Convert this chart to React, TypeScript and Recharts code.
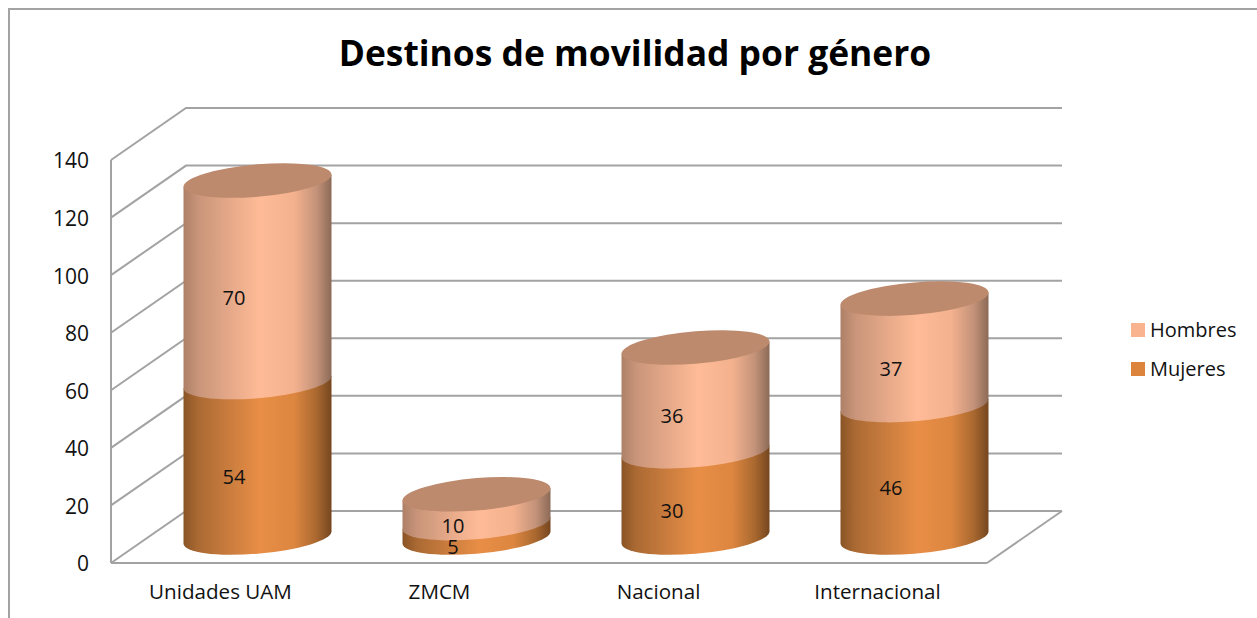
import React from "react";
import { BarChart, Bar, XAxis, YAxis, CartesianGrid, Legend, LabelList } from "recharts";

const categories = ["Unidades UAM", "ZMCM", "Nacional", "Internacional"];
const mujeres = [54, 5, 30, 46];
const hombres = [70, 10, 36, 37];
const yTicks = [0, 20, 40, 60, 80, 100, 120, 140];

const rows = categories.map((name, i) => ({ name, Mujeres: mujeres[i], Hombres: hombres[i] }));

const FONT = "'Open Sans', 'Noto Sans', sans-serif";
const GRID = "#a3a3a3";
const DEPTH_X = 75;
const DEPTH_Y = -52;
const BAR_DX = 36.5;
const BAR_DY = -25.5;
const SHEAR = -0.082;
const RY = 16.2;

function Gradients() {
  return (
    <defs>
      <linearGradient id="orangeBody" x1="0" y1="0" x2="1" y2="0">
        <stop offset="0" stopColor="#8a5426" />
        <stop offset="0.1" stopColor="#ab6a33" />
        <stop offset="0.35" stopColor="#d08040" />
        <stop offset="0.52" stopColor="#e88e46" />
        <stop offset="0.75" stopColor="#dc8640" />
        <stop offset="0.9" stopColor="#a9682f" />
        <stop offset="1" stopColor="#754620" />
      </linearGradient>
      <linearGradient id="peachBody" x1="0" y1="0" x2="1" y2="0">
        <stop offset="0" stopColor="#ad8067" />
        <stop offset="0.1" stopColor="#c9957a" />
        <stop offset="0.35" stopColor="#eaac8b" />
        <stop offset="0.52" stopColor="#ffbb97" />
        <stop offset="0.75" stopColor="#f3b18e" />
        <stop offset="0.9" stopColor="#c39279" />
        <stop offset="1" stopColor="#8c6a57" />
      </linearGradient>
    </defs>
  );
}

function cylinder(gradient: string, withCap: boolean) {
  return (props: any) => {
    const { x, y, width, height } = props;
    const a = width / 2;
    const cx = x + a + BAR_DX;
    const top = y + BAR_DY;
    const d = `M ${-a} 0 L ${-a} ${height} A ${a} ${RY} 0 0 0 ${a} ${height} L ${a} 0 Z`;
    return (
      <g transform={`matrix(1 ${SHEAR} 0 1 ${cx} ${top})`}>
        <path d={d} fill={`url(#${gradient})`} />
        {withCap ? <ellipse cx={0} cy={0} rx={a} ry={RY} fill="#bd8a6d" /> : null}
      </g>
    );
  };
}

function gridLine(props: any) {
  const { x1, x2, y1, y, height } = props;
  const isFloor = Math.abs(y1 - (y + height)) < 0.5;
  const bx = x1 + DEPTH_X;
  const by = y1 + DEPTH_Y;
  const pts = `${x1},${y1} ${bx},${by} ${x2 + DEPTH_X},${by}`;
  return (
    <g key={`g-${y1}`}>
      <polyline points={pts} fill="none" stroke={GRID} strokeWidth={2} />
      {isFloor ? <line x1={x2} y1={y1} x2={x2 + DEPTH_X} y2={by} stroke={GRID} strokeWidth={2} /> : null}
    </g>
  );
}

function valueLabel(props: any) {
  const { x, y, width, height, value } = props;
  return (
    <text
      x={x + width / 2 + 13}
      y={y + height / 2 - 9}
      textAnchor="middle"
      dominantBaseline="central"
      fontFamily={FONT}
      fontSize={20}
      fill="#111"
    >
      {value}
    </text>
  );
}

function LegendBox(props: any) {
  const items = props.payload || [];
  return (
    <div style={{ fontFamily: FONT, fontSize: 20, color: "#111" }}>
      {items.map((it: any) => (
        <div key={it.value} style={{ display: "flex", alignItems: "center", height: 39 }}>
          <span style={{ width: 14, height: 14, background: it.color, marginRight: 5, display: "inline-block" }} />
          <span>{it.value}</span>
        </div>
      ))}
    </div>
  );
}

export default function App() {
  return (
    <div style={{ position: "absolute", left: 0, top: 0, width: 1257, height: 618, overflow: "hidden", background: "#fff" }}>
      <div style={{ position: "absolute", left: 8, top: 8, width: 1280, height: 640, border: `2px solid ${GRID}` }} />
      <div
        style={{
          position: "absolute",
          left: 0,
          width: 1270,
          top: 28,
          textAlign: "center",
          fontFamily: FONT,
          fontWeight: 700,
          fontSize: 35.4,
          color: "#000",
        }}
      >
        Destinos de movilidad por género
      </div>
      <div style={{ position: "absolute", left: 0, top: 0 }}>
        <BarChart
          width={1257}
          height={618}
          data={rows}
          margin={{ left: 50, top: 160, right: 150, bottom: 15 }}
          barSize={148}
        >
          <Gradients />
          <CartesianGrid vertical={false} horizontal={gridLine} syncWithTicks />
          <XAxis
            dataKey="name"
            height={40}
            tickLine={false}
            axisLine={{ stroke: GRID, strokeWidth: 2 }}
            tick={{ fontFamily: FONT, fontSize: 20.6, fill: "#111" }}
            tickMargin={15}
            interval={0}
          />
          <YAxis
            width={61}
            domain={[0, 140]}
            ticks={yTicks}
            tickLine={false}
            axisLine={{ stroke: GRID, strokeWidth: 2 }}
            tick={{ fontFamily: FONT, fontSize: 21, fill: "#111", dy: 1 }}
            tickMargin={16}
          />
          <Legend layout="vertical" align="right" verticalAlign="top" content={LegendBox} wrapperStyle={{ position: "absolute", left: 1131, top: 310, width: 120 }} />
          <Bar dataKey="Mujeres" stackId="a" fill="#dc843c" shape={cylinder("orangeBody", false)} isAnimationActive={false}>
            <LabelList dataKey="Mujeres" content={valueLabel} />
          </Bar>
          <Bar dataKey="Hombres" stackId="a" fill="#f9b48f" shape={cylinder("peachBody", true)} isAnimationActive={false}>
            <LabelList dataKey="Hombres" content={valueLabel} />
          </Bar>
        </BarChart>
      </div>
    </div>
  );
}
